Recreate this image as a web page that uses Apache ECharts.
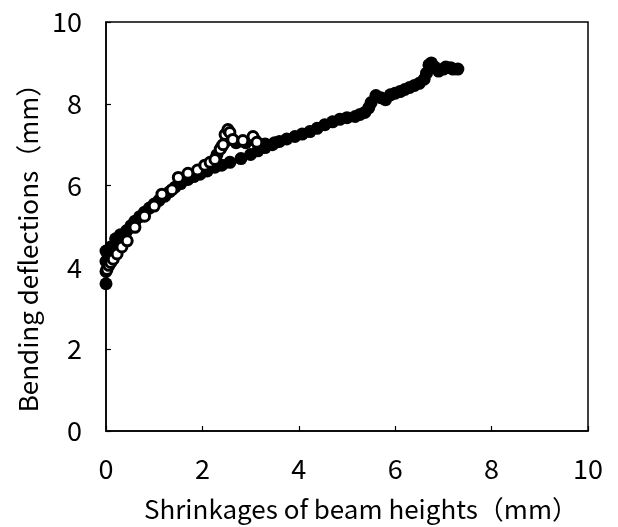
<!DOCTYPE html>
<html>
<head>
<meta charset="utf-8">
<script src="https://cdn.jsdelivr.net/npm/echarts@6/dist/echarts.min.js"></script>
<style>
  html, body { margin: 0; padding: 0; background: #fff; }
  #chart { width: 618px; height: 527px; }
</style>
</head>
<body>
<div id="chart"></div>
<script>
// Shrinkage (mm) vs bending deflection (mm)

// solid markers, main curve
var solidX = [0, 0, 0, 0, 0.1, 0.2, 0.3, 0.43, 0.52, 0.6, 0.7, 0.8, 0.9, 1.0, 1.1, 1.22, 1.32, 1.43, 1.55, 1.7, 1.82, 1.95,
              2.1, 2.26, 2.4, 2.57, 2.8, 3.0, 3.15, 3.3, 3.45, 3.6, 3.75, 3.92, 4.07, 4.23, 4.38, 4.54, 4.7, 4.85, 5.0,
              5.17, 5.27, 5.37, 5.45, 5.5, 5.6, 5.7, 5.8, 5.9, 6.0, 6.1, 6.2, 6.3, 6.4, 6.5, 6.6, 6.65, 6.7, 6.75,
              6.82, 6.9, 7.0, 7.05, 7.15, 7.2, 7.3];
var solidY = [3.6, 3.9, 4.15, 4.4, 4.5, 4.7, 4.8, 4.9, 5.02, 5.13, 5.24, 5.35, 5.45, 5.55, 5.64, 5.74, 5.85, 5.96, 6.05, 6.15, 6.22, 6.28,
              6.36, 6.45, 6.5, 6.57, 6.66, 6.76, 6.85, 6.93, 7.0, 7.08, 7.14, 7.2, 7.26, 7.32, 7.4, 7.49, 7.56, 7.62, 7.66,
              7.69, 7.74, 7.79, 7.9, 8.03, 8.2, 8.15, 8.1, 8.22, 8.26, 8.3, 8.35, 8.4, 8.45, 8.5, 8.6, 8.75, 8.95, 9.0,
              8.9, 8.8, 8.85, 8.9, 8.88, 8.85, 8.85];

// solid markers on the upper (bumpy) branch
var bumpX = [1.9, 2.1, 2.3, 2.4, 2.5, 2.57, 2.7, 2.9, 3.1, 3.3, 3.5];
var bumpY = [6.35, 6.5, 6.75, 6.95, 7.1, 7.2, 7.05, 7.05, 7.1, 7.02, 7.05];

// open markers
var openX = [0.02, 0.06, 0.1, 0.15, 0.23, 0.33, 0.44, 0.6, 0.8, 1.0, 1.16, 1.37, 1.5, 1.7, 1.9, 2.05, 2.16, 2.26,
             2.37, 2.43, 2.47, 2.53, 2.57, 2.63, 2.84, 3.05, 3.13];
var openY = [3.95, 4.05, 4.12, 4.2, 4.33, 4.5, 4.65, 4.98, 5.25, 5.5, 5.79, 5.9, 6.2, 6.3, 6.38, 6.5, 6.57, 6.64,
             6.89, 7.0, 7.25, 7.37, 7.3, 7.13, 7.1, 7.2, 7.06];

// axis ticks
var xTicks = [0, 2, 4, 6, 8, 10];
var yTicks = [0, 2, 4, 6, 8, 10];

function pairs(xs, ys) {
  var out = [];
  for (var i = 0; i < xs.length; i++) out.push([xs[i], ys[i]]);
  return out;
}

var font = '"Noto Sans CJK JP", "Noto Sans", sans-serif';

var chart = echarts.init(document.getElementById('chart'));

var axisCommon = {
  type: 'value',
  min: xTicks[0],
  max: xTicks[xTicks.length - 1],
  interval: 2,
  splitLine: { show: false },
  axisLine: { show: true, lineStyle: { color: '#000', width: 1.5 } },
  axisTick: { show: true, inside: true, length: 5, lineStyle: { color: '#000', width: 1.2 } },
  axisLabel: { color: '#000', fontSize: 27, fontFamily: font, margin: 24 },
  nameLocation: 'middle',
  nameTextStyle: { color: '#000', fontSize: 26, fontFamily: font }
};

var option = {
  animation: false,
  backgroundColor: '#fff',
  grid: { left: 106, right: 30, top: 22, bottom: 94, show: true, borderColor: '#000', borderWidth: 1.5 },
  xAxis: Object.assign({}, axisCommon, {
    name: 'Shrinkages of beam heights（mm）',
    nameGap: 65,
    nameTextStyle: { color: '#000', fontSize: 26, fontFamily: font, padding: [0, 0, 0, 28] }
  }),
  yAxis: Object.assign({}, axisCommon, {
    min: yTicks[0],
    max: yTicks[yTicks.length - 1],
    name: 'Bending deflections（mm）',
    nameGap: 62,
    nameTextStyle: { color: '#000', fontSize: 26, fontFamily: font, padding: [0, 30, 0, 0] },
    axisLabel: { color: '#000', fontSize: 27, fontFamily: font, margin: 24 }
  }),
  series: [
    {
      type: 'line',
      data: pairs(solidX, solidY),
      symbol: 'circle',
      symbolSize: 13,
      itemStyle: { color: '#000' },
      lineStyle: { color: '#000', width: 3 }
    },
    {
      type: 'line',
      data: pairs(bumpX, bumpY),
      symbol: 'circle',
      symbolSize: 13,
      itemStyle: { color: '#000' },
      lineStyle: { color: '#000', width: 3 }
    },
    {
      type: 'line',
      data: pairs(openX, openY),
      symbol: 'circle',
      symbolSize: 10,
      itemStyle: { color: '#fff', borderColor: '#000', borderWidth: 3 },
      lineStyle: { color: '#000', width: 2 }
    }
  ]
};

chart.setOption(option);
</script>
</body>
</html>
